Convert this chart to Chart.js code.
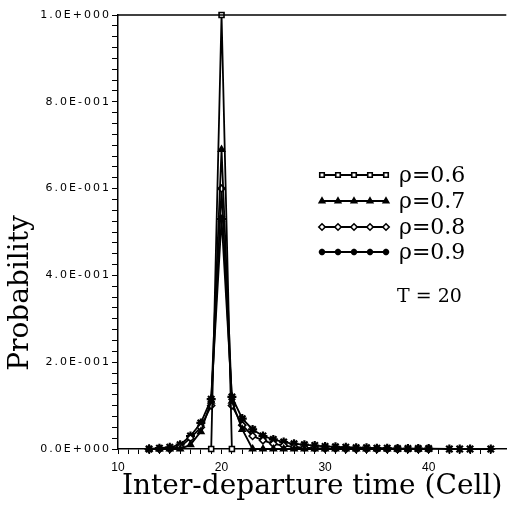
<!DOCTYPE html>
<html>
<head>
<meta charset="utf-8">
<script src="https://cdn.jsdelivr.net/npm/chart.js"></script>
<style>
  html, body { margin: 0; padding: 0; background: #fff; }
  #wrap { width: 513px; height: 507px; }
</style>
</head>
<body>
<div id="wrap"><canvas id="chart" width="513" height="507"></canvas></div>
<script>
// inter-departure time (cells) where points were plotted
const xValues = [13, 14, 15, 16, 17, 18, 19, 20, 21, 22, 23, 24, 25, 26, 27, 28, 29, 30,
  31, 32, 33, 34, 35, 36, 37, 38, 39, 40, 42, 43, 44, 46];

const rho06 = [null, null, null, null, null, null, 0, 1.0, 0, null, null, null, null, null, null, null, null, null,
  null, null, null, null, null, null, null, null, null, null, null, null, null, null];
const rho07 = [0, 0, 0, 0, 0.01, 0.04, 0.11, 0.69, 0.11, 0.045, 0, 0, 0, 0, 0, 0, 0, 0,
  0, 0, 0, 0, 0, 0, 0, 0, 0, 0, null, null, null, null];
const rho08 = [0, 0, 0, 0.005, 0.025, 0.05, 0.1, 0.6, 0.1, 0.055, 0.03, 0.02, 0.012, 0.008, 0.005, 0.003, 0.002, 0.001,
  0.001, 0, 0, 0, 0, 0, 0, 0, 0, 0, null, null, null, null];
const rho09 = [0, 0.002, 0.004, 0.01, 0.03, 0.06, 0.115, 0.53, 0.12, 0.07, 0.045, 0.03, 0.022, 0.016, 0.012, 0.01, 0.008, 0.006,
  0.005, 0.004, 0.003, 0.003, 0.002, 0.002, 0.001, 0.001, 0.001, 0.001, 0, 0, 0, 0];

const seriesNames = ["\u03c1=0.6", "\u03c1=0.7", "\u03c1=0.8", "\u03c1=0.9"];
const markerStyles = ["rect", "triangle", "rectRot", "star"];
const yTickLabels = ["0.0E+000", "2.0E-001", "4.0E-001", "6.0E-001", "8.0E-001", "1.0E+000"];
const xTickLabels = { 10: "10", 20: "20", 30: "30", 40: "40" };
const noteText = "T = 20";

function makeSet(i, values) {
  return {
    label: seriesNames[i],
    data: xValues.map((x, k) => ({ x: x, y: values[k] })),
    borderColor: "#000",
    backgroundColor: i === 0 || i === 2 ? "#fff" : "#000",
    borderWidth: 1.8,
    pointStyle: markerStyles[i],
    pointRadius: i === 3 ? 4.5 : 3.5,
    pointBorderWidth: i === 3 ? 2.2 : 1.6,
    spanGaps: true,
    tension: 0,
    clip: 8,
  };
}

// legend, note and y title drawn at fixed spots like the original figure
const decorations = {
  id: "decorations",
  afterDraw(chart) {
    const ctx = chart.ctx;
    const area = chart.chartArea;
    ctx.save();
    ctx.strokeStyle = "#000";
    ctx.fillStyle = "#000";

    // top frame line
    ctx.lineWidth = 1.5;
    ctx.beginPath();
    ctx.moveTo(area.left, area.top);
    ctx.lineTo(area.right, area.top);
    ctx.stroke();

    // legend
    const rows = [175, 201, 227, 252];
    const marks = [322, 338, 354, 370, 386];
    chart.data.datasets.forEach((ds, i) => {
      const y = rows[i];
      ctx.lineWidth = 1.8;
      ctx.strokeStyle = "#000";
      ctx.beginPath();
      ctx.moveTo(marks[0], y);
      ctx.lineTo(marks[4], y);
      ctx.stroke();
      marks.forEach((mx) => {
        ctx.fillStyle = ds.backgroundColor;
        ctx.strokeStyle = "#000";
        ctx.lineWidth = ds.pointBorderWidth;
        Chart.helpers.drawPoint(ctx, { pointStyle: ds.pointStyle, radius: 3.2, borderWidth: ds.pointBorderWidth, rotation: 0 }, mx, y);
      });
      ctx.fillStyle = "#000";
      ctx.font = "22px 'DejaVu Serif'";
      ctx.textAlign = "left";
      ctx.textBaseline = "middle";
      ctx.fillText(ds.label, 399, y + 1);
    });

    ctx.font = "19px 'DejaVu Serif'";
    ctx.fillText(noteText, 397, 297);

    // y axis title
    ctx.translate(21, 293);
    ctx.rotate(-Math.PI / 2);
    ctx.font = "28px 'DejaVu Serif'";
    ctx.textAlign = "center";
    ctx.textBaseline = "middle";
    ctx.fillText("Probability", 0, 0);
    ctx.restore();
  },
};

Chart.defaults.color = "#000";

new Chart(document.getElementById("chart").getContext("2d"), {
  type: "line",
  data: {
    datasets: [makeSet(0, rho06), makeSet(1, rho07), makeSet(2, rho08), makeSet(3, rho09)],
  },
  options: {
    responsive: false,
    animation: false,
    layout: { padding: { top: 15, right: 0, left: 0, bottom: 0 } },
    plugins: { legend: { display: false }, tooltip: { enabled: false } },
    scales: {
      x: {
        type: "linear",
        min: 10,
        max: 47.5,
        afterBuildTicks(scale) {
          scale.ticks = scale.ticks.filter((t) => Number.isInteger(t.value));
        },
        afterFit(scale) {
          scale.height = 58;
        },
        ticks: {
          stepSize: 1,
          autoSkip: false,
          maxRotation: 0,
          padding: 6,
          font: { family: "'Liberation Sans'", size: 12 },
          callback: (v) => xTickLabels[v] || "",
        },
        grid: { drawOnChartArea: false, tickLength: 5, tickColor: "#000", tickWidth: 1 },
        border: { color: "#000", width: 1.5 },
        title: {
          display: true,
          text: "Inter-departure time (Cell)",
          font: { family: "'DejaVu Serif'", size: 28 },
          padding: { top: 0, bottom: 3 },
        },
      },
      y: {
        min: 0,
        max: 1,
        afterFit(scale) {
          scale.width = 118;
          if (!scale.spaced) {
            const draw = scale.drawLabels;
            scale.drawLabels = function (area) {
              this.ctx.letterSpacing = "2px";
              draw.call(this, area);
              this.ctx.letterSpacing = "0px";
            };
            scale.spaced = true;
          }
        },
        ticks: {
          stepSize: 0.025,
          autoSkip: false,
          padding: 1,
          font: { family: "'DejaVu Sans'", size: 11 },
          callback: (v) => {
            const k = Math.round(v * 40);
            return k % 8 === 0 ? yTickLabels[k / 8] : "";
          },
        },
        grid: { drawOnChartArea: false, tickLength: 6, tickColor: "#000", tickWidth: 1 },
        border: { color: "#000", width: 1.5 },
      },
    },
  },
  plugins: [decorations],
});
</script>
</body>
</html>
